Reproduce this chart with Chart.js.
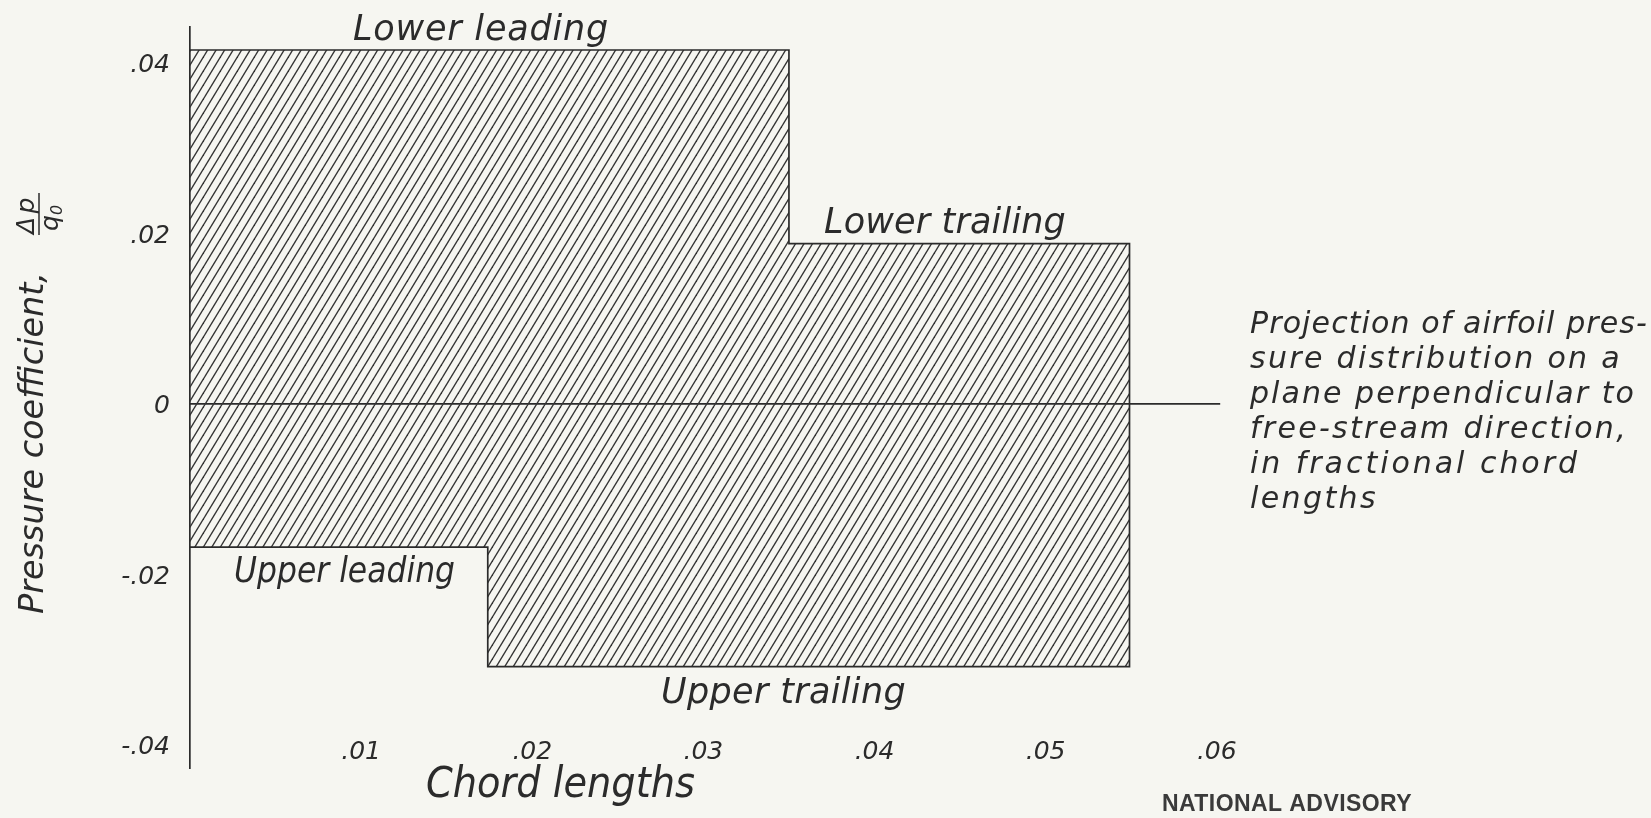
<!DOCTYPE html>
<html>

<head>
  <meta charset="utf-8">
  <title>Projected pressure distribution</title>
  <script src="https://cdn.jsdelivr.net/npm/chart.js@4.4.1/dist/chart.umd.min.js"></script>
  <style>
    html,
    body {
      margin: 0;
      padding: 0;
      background: #f6f6f1;
    }

    canvas {
      display: block;
    }
  </style>
</head>

<body>
  <canvas id="chart" width="1651" height="818"></canvas>
  <script>
    // values (chord lengths / pressure coefficient)
    var xTicks = [0.01, 0.02, 0.03, 0.04, 0.05, 0.06];
    var yTicks = [-0.04, -0.02, 0, 0.02, 0.04];

    var lowerEdges = [0, 0.035, 0.0549];      // lower leading, lower trailing
    var lowerValues = [0.0415, 0.0188];
    var upperEdges = [0, 0.0174, 0.0549];     // upper leading, upper trailing
    var upperValues = [-0.0168, -0.0308];
    var zeroLineEnd = 0.0602;

    var ink = '#2b2b2b';
    var hand = '"DejaVu Sans", sans-serif';

    // step outline: top of each segment, then back down to zero at the end
    function outline(edges, values) {
      var pts = [];
      for (var i = 0; i < values.length; i++) {
        pts.push({ x: edges[i], y: values[i] });
        pts.push({ x: edges[i + 1], y: values[i] });
      }
      pts.push({ x: edges[edges.length - 1], y: 0 });
      return pts;
    }

    function hatch() {
      var c = document.createElement('canvas');
      c.width = 17;
      c.height = 14;
      var g = c.getContext('2d');
      g.strokeStyle = '#333';
      g.lineWidth = 1.35;
      for (var k = -2; k <= 3; k++) {
        var x0 = k * 8.5;
        g.beginPath();
        g.moveTo(x0 - 1.5, 16.5);
        g.lineTo(x0 + 10, -2.5);
        g.stroke();
      }
      return g.createPattern(c, 'repeat');
    }

    // draw text stretched or spaced to the width it has in the drawing
    function fitText(ctx, text, x, y, w) {
      ctx.letterSpacing = '0px';
      var m = ctx.measureText(text).width;
      if (m > w) {
        ctx.save();
        ctx.translate(x, y);
        ctx.scale(w / m, 1);
        ctx.fillText(text, 0, 0);
        ctx.restore();
      } else {
        ctx.letterSpacing = ((w - m) / text.length) + 'px';
        ctx.fillText(text, x, y);
        ctx.letterSpacing = '0px';
      }
    }

    var notes = [
      { text: 'Lower leading', x: 353, y: 40, size: 35, w: 256 },
      { text: 'Lower trailing', x: 824, y: 233, size: 35, w: 242 },
      { text: 'Upper leading', x: 234, y: 582, size: 35, w: 221 },
      { text: 'Upper trailing', x: 661, y: 703, size: 35, w: 245 },
      { text: 'Chord lengths', x: 426, y: 797, size: 42, w: 269 }
    ];
    var projection = [
      ['Projection of airfoil pres-', 333, 398],
      ['sure distribution on a', 368, 372],
      ['plane perpendicular to', 403, 386],
      ['free-stream direction,', 438, 378],
      ['in fractional chord', 473, 330],
      ['lengths', 508, 128]
    ];

    var labels = {
      id: 'labels',
      afterDraw: function (chart) {
        var ctx = chart.ctx;
        ctx.save();
        ctx.fillStyle = ink;
        ctx.textAlign = 'left';
        ctx.textBaseline = 'alphabetic';

        notes.forEach(function (n) {
          ctx.font = 'italic ' + n.size + 'px ' + hand;
          fitText(ctx, n.text, n.x, n.y, n.w);
        });

        ctx.font = 'italic 30px ' + hand;
        projection.forEach(function (l) {
          fitText(ctx, l[0], 1250, l[1], l[2]);
        });

        ctx.fillStyle = '#3a3a3a';
        ctx.font = 'bold 23px "Liberation Sans", sans-serif';
        fitText(ctx, 'NATIONAL ADVISORY', 1162, 811, 250);

        // y axis title, written bottom to top
        ctx.fillStyle = ink;
        ctx.translate(43, 614);
        ctx.rotate(-Math.PI / 2);
        ctx.font = 'italic 34px ' + hand;
        fitText(ctx, 'Pressure coefficient,', 0, 0, 342);
        ctx.font = 'italic 25px ' + hand;
        fitText(ctx, '\u0394p', 380, -9, 40);
        ctx.fillText('q', 383, 15);
        ctx.font = 'italic 16px ' + hand;
        ctx.fillText('0', 399, 19);
        ctx.strokeStyle = ink;
        ctx.lineWidth = 1.5;
        ctx.beginPath();
        ctx.moveTo(379, -4);
        ctx.lineTo(421, -4);
        ctx.stroke();
        ctx.restore();
      }
    };

    function fmt(v) {
      if (v === 0) return '0';
      return (v < 0 ? '-' : '') + Math.abs(v).toFixed(2).replace(/^0/, '');
    }

    var pattern = hatch();
    var line = { borderColor: ink, borderWidth: 1.7, pointRadius: 0, tension: 0 };
    var tickFont = { family: hand, size: 25, style: 'italic' };

    var ctx = document.getElementById('chart').getContext('2d');
    window.chart = new Chart(ctx, {
      type: 'line',
      data: {
        datasets: [
          Object.assign({ data: outline(lowerEdges, lowerValues), fill: 'origin', backgroundColor: pattern }, line),
          Object.assign({ data: outline(upperEdges, upperValues), fill: 'origin', backgroundColor: pattern }, line),
          Object.assign({ data: [{ x: 0, y: 0 }, { x: zeroLineEnd, y: 0 }], fill: false }, line)
        ]
      },
      options: {
        responsive: false,
        animation: false,
        layout: { padding: { left: 120, right: 400, top: 25, bottom: 50 } },
        plugins: { legend: { display: false }, tooltip: { enabled: false } },
        scales: {
          x: {
            type: 'linear',
            min: 0,
            max: 0.062,
            position: { y: -0.0382 },
            grid: { display: false },
            border: { display: false },
            afterBuildTicks: function (s) { s.ticks = xTicks.map(function (v) { return { value: v }; }); },
            ticks: {
              padding: 0,
              maxRotation: 0,
              color: ink,
              font: tickFont,
              callback: fmt
            }
          },
          y: {
            type: 'linear',
            min: -0.0427,
            max: 0.0442,
            position: 'left',
            grid: { display: false },
            border: { display: true, color: ink, width: 1.7 },
            afterFit: function (s) { s.width = 70; },
            afterBuildTicks: function (s) { s.ticks = yTicks.map(function (v) { return { value: v }; }); },
            ticks: {
              padding: 12,
              labelOffset: 3,
              color: ink,
              font: tickFont,
              callback: fmt
            }
          }
        }
      },
      plugins: [labels]
    });
  </script>
</body>

</html>
